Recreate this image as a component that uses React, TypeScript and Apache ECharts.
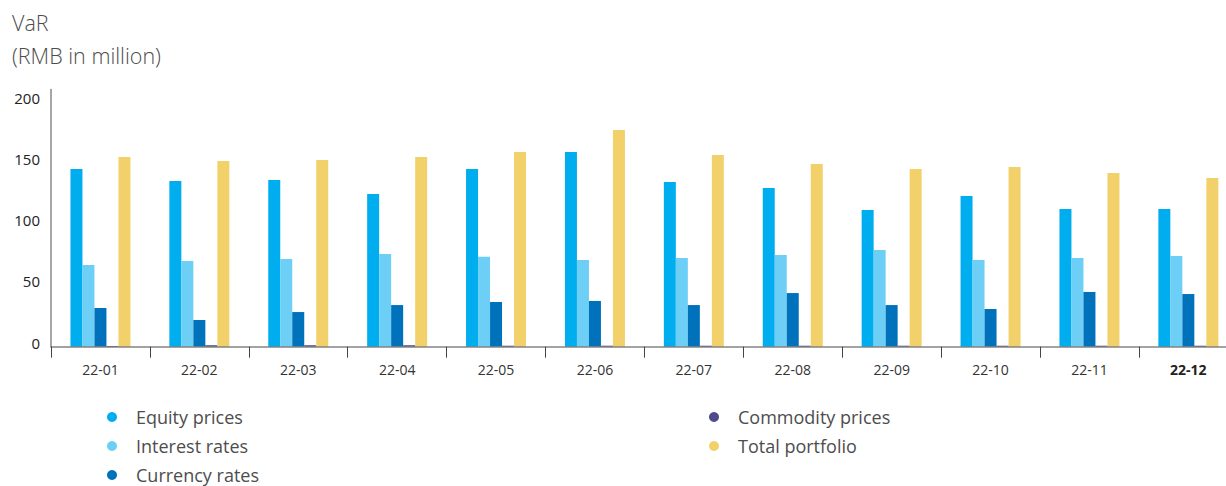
import React, { useEffect, useRef } from "react";
import * as echarts from "echarts";

// Monthly VaR by risk factor (RMB in million)
const months = ["22-01", "22-02", "22-03", "22-04", "22-05", "22-06", "22-07", "22-08", "22-09", "22-10", "22-11", "22-12"];
const equityPrices = [145.1, 135.3, 136.1, 124.7, 145.1, 158.9, 134.4, 129.6, 111.6, 123.0, 112.4, 112.4];
const interestRates = [66.7, 70.0, 71.6, 75.7, 73.5, 70.8, 72.4, 74.9, 78.9, 70.8, 72.4, 74.0];
const currencyRates = [31.6, 21.8, 28.3, 34.0, 36.5, 37.3, 34.0, 43.8, 34.0, 30.8, 44.7, 43.0];
const commodityPrices = [0.6, 1.2, 1.2, 1.2, 0.8, 0.8, 0.8, 0.8, 0.8, 0.8, 0.8, 0.8];
const totalPortfolio = [154.9, 151.6, 152.4, 154.9, 158.9, 176.9, 156.5, 149.1, 145.1, 146.7, 141.8, 137.7];
const yTicks = [0, 50, 100, 150, 200];

const FONT = "'Open Sans', 'Noto Sans', sans-serif";

const seriesDefs = [
  { name: "Equity prices", data: equityPrices, color: "#00AEEF" },
  { name: "Interest rates", data: interestRates, color: "#6DCFF6" },
  { name: "Currency rates", data: currencyRates, color: "#0072BC" },
  { name: "Commodity prices", data: commodityPrices, color: "#4F4A8C" },
  { name: "Total portfolio", data: totalPortfolio, color: "#F2D16B" },
];

const legendText = {
  fontFamily: FONT,
  fontSize: 18,
  color: "#4d4d4d",
  lineHeight: 20,
  padding: [0, 0, 0, 14],
};

export default function App() {
  const ref = useRef<HTMLDivElement>(null);

  useEffect(() => {
    if (!ref.current) return;
    const chart = echarts.init(ref.current, undefined, { renderer: "svg" });
    chart.setOption({
      animation: false,
      backgroundColor: "#ffffff",
      textStyle: { fontFamily: FONT },
      title: {
        text: "VaR\n(RMB in million)",
        left: 12,
        top: 6,
        padding: 0,
        textStyle: {
          fontFamily: FONT,
          fontSize: 21.5,
          fontWeight: 300,
          color: "#4d4d4d",
          lineHeight: 33,
        },
      },
      legend: [
        {
          orient: "vertical",
          left: 107,
          top: 407,
          padding: 0,
          itemGap: 9,
          itemWidth: 10,
          itemHeight: 10,
          icon: "circle",
          selectedMode: false,
          data: ["Equity prices", "Interest rates", "Currency rates"],
          textStyle: legendText,
        },
        {
          orient: "vertical",
          left: 709,
          top: 407,
          padding: 0,
          itemGap: 9,
          itemWidth: 10,
          itemHeight: 10,
          icon: "circle",
          selectedMode: false,
          data: ["Commodity prices", "Total portfolio"],
          textStyle: legendText,
        },
      ],
      grid: {
        left: 51,
        top: 89.5,
        width: 1186.8,
        height: 257.2,
        containLabel: false,
      },
      xAxis: {
        type: "category",
        data: months,
        z: 5,
        axisLine: { lineStyle: { color: "rgba(110,110,110,0.85)", width: 1.5 } },
        axisTick: { show: true, length: 11, lineStyle: { color: "#444444", width: 1 } },
        axisLabel: {
          margin: 16,
          fontFamily: FONT,
          fontSize: 14,
          color: "#333333",
          formatter: (v: string, i: number) => (i === months.length - 1 ? `{b|${v}}` : v),
          rich: {
            b: { fontFamily: FONT, fontSize: 14, fontWeight: "bold", color: "#222222" },
          },
        },
        splitLine: { show: false },
      },
      yAxis: {
        type: "value",
        min: yTicks[0],
        max: 210,
        interval: yTicks[1] - yTicks[0],
        axisLine: { show: true, lineStyle: { color: "#888888", width: 1.5 } },
        axisTick: { show: false },
        splitLine: { show: false },
        axisLabel: {
          margin: 11,
          fontFamily: FONT,
          fontSize: 15,
          color: "#222222",
          verticalAlign: "bottom",
          lineHeight: 8,
          showMaxLabel: false,
        },
      },
      series: seriesDefs.map((s) => ({
        name: s.name,
        type: "bar",
        data: s.data,
        barWidth: 12,
        barGap: "0%",
        itemStyle: { color: s.color },
      })),
    });
    return () => chart.dispose();
  }, []);

  return (
    <div style={{ position: "absolute", left: 0, top: 0, width: 1226, height: 486, overflow: "hidden", background: "#fff" }}>
      <div ref={ref} style={{ width: 1250, height: 486 }} />
    </div>
  );
}
